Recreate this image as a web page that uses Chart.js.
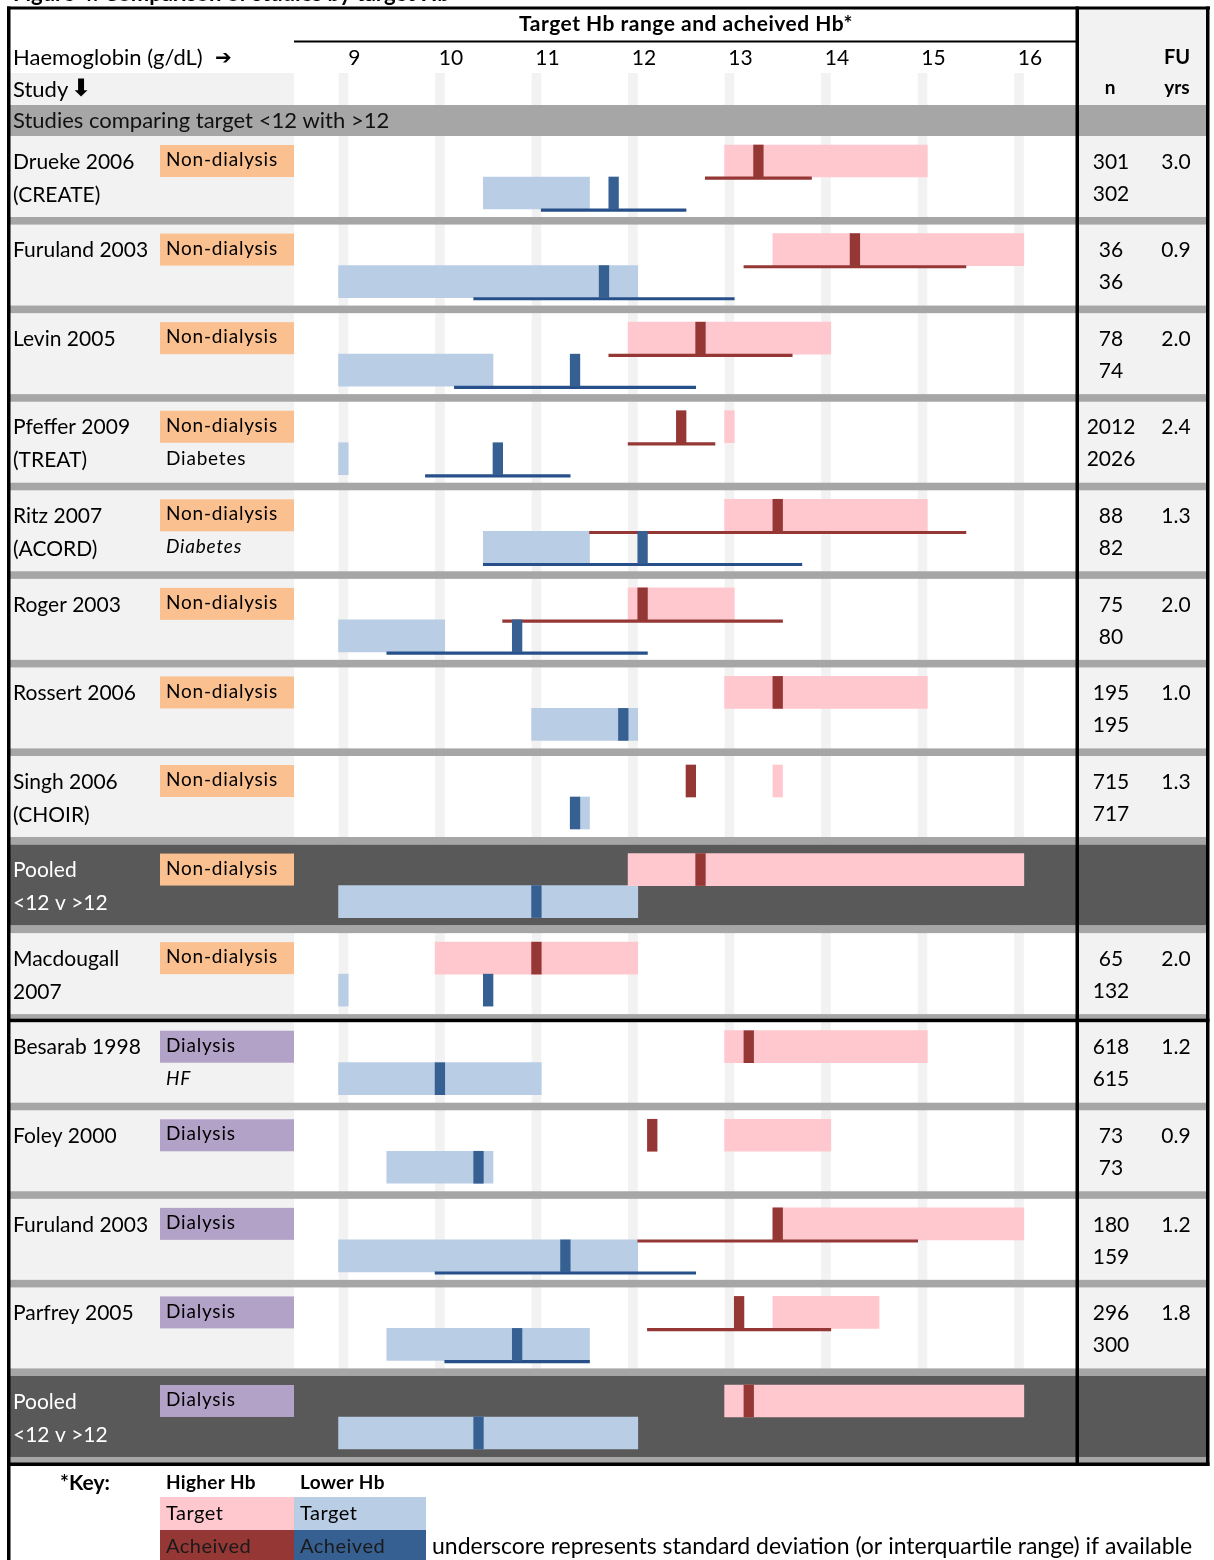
<!DOCTYPE html>
<html>
<head>
<meta charset="utf-8">
<title>Target Hb range and acheived Hb</title>
<script src="https://cdn.jsdelivr.net/npm/chart.js@4.4.1/dist/chart.umd.min.js"></script>
<style>
  html, body { margin: 0; padding: 0; background: #fff; }
  canvas { display: block; }
</style>
</head>
<body>
<canvas id="hbChart" width="1214" height="1560"></canvas>
<script>
// ---- Data -------------------------------------------------------------
const hbTicks = [9, 10, 11, 12, 13, 14, 15, 16];

const studyLine1 = ['Drueke 2006', 'Furuland 2003', 'Levin 2005', 'Pfeffer 2009', 'Ritz 2007',
  'Roger 2003', 'Rossert 2006', 'Singh 2006', 'Pooled', 'Macdougall',
  'Besarab 1998', 'Foley 2000', 'Furuland 2003', 'Parfrey 2005', 'Pooled'];
const studyLine2 = ['(CREATE)', '', '', '(TREAT)', '(ACORD)',
  '', '', '(CHOIR)', '<12 v >12', '2007',
  '', '', '', '', '<12 v >12'];
const setting = ['Non-dialysis', 'Non-dialysis', 'Non-dialysis', 'Non-dialysis', 'Non-dialysis',
  'Non-dialysis', 'Non-dialysis', 'Non-dialysis', 'Non-dialysis', 'Non-dialysis',
  'Dialysis', 'Dialysis', 'Dialysis', 'Dialysis', 'Dialysis'];
const subgroup = ['', '', '', 'Diabetes', 'Diabetes', '', '', '', '', '', 'HF', '', '', '', ''];
const subgroupItalic = [false, false, false, false, true, false, false, false, false, false, true, false, false, false, false];
const isPooled = [false, false, false, false, false, false, false, false, true, false, false, false, false, false, true];

const nHigher = ['301', '36', '78', '2012', '88', '75', '195', '715', '', '65', '618', '73', '180', '296', ''];
const nLower = ['302', '36', '74', '2026', '82', '80', '195', '717', '', '132', '615', '73', '159', '300', ''];
const followUpYrs = ['3.0', '0.9', '2.0', '2.4', '1.3', '2.0', '1.0', '1.3', '', '2.0', '1.2', '0.9', '1.2', '1.8', ''];

// Higher-Hb arm: target range, achieved Hb, SD / IQR range
const higherTarget = [[13, 15], [13.5, 16], [12, 14], [13, 13], [13, 15], [12, 13], [13, 15], [13.5, 13.5],
  [12, 16], [10, 12], [13, 15], [13, 14], [13.5, 16], [13.5, 14.5], [13, 16]];
const higherAchieved = [13.3, 14.3, 12.7, 12.5, 13.5, 12.1, 13.5, 12.6, 12.7, 11.0, 13.2, 12.2, 13.5, 13.1, 13.2];
const higherSpread = [[12.8, 13.8], [13.2, 15.4], [11.8, 13.6], [12.0, 12.8], [11.6, 15.4], [10.7, 13.5],
  null, null, null, null, null, null, [12.1, 14.9], [12.2, 14.0], null];

// Lower-Hb arm
const lowerTarget = [[10.5, 11.5], [9, 12], [9, 10.5], [9, 9], [10.5, 11.5], [9, 10], [11, 12], [11.5, 11.5],
  [9, 12], [9, 9], [9, 11], [9.5, 10.5], [9, 12], [9.5, 11.5], [9, 12]];
const lowerAchieved = [11.8, 11.7, 11.4, 10.6, 12.1, 10.8, 11.9, 11.4, 11.0, 10.5, 10.0, 10.4, 11.3, 10.8, 10.4];
const lowerSpread = [[11.1, 12.5], [10.4, 13.0], [10.2, 12.6], [9.9, 11.3], [10.5, 13.7], [9.5, 12.1],
  null, null, null, null, null, null, [10.0, 12.6], [10.1, 11.5], null];

// ---- Layout -----------------------------------------------------------
const W = 1214, H = 1560;
const PLOT_LEFT = 294, PLOT_RIGHT = 1076, PLOT_TOP = 73, PLOT_BOTTOM = 1463;
const X_MIN = 8.4882, X_MAX = 16.5906;
const ROW_TOP0 = 136, ROW_H = 88.57, BODY_H = 81;
const HALF_CELL = 0.05;               // every value fills a 0.1 g/dL cell

const rowTop = i => ROW_TOP0 + i * ROW_H;
const upperY = i => rowTop(i) + 25;
const lowerY = i => rowTop(i) + 57;
const upperLineY = i => rowTop(i) + 42.2;
const lowerLineY = i => rowTop(i) + 74.2;
const cell = (lo, hi) => [lo - HALF_CELL, hi + HALF_CELL];

const rangeData = (ranges, yFn) =>
  ranges.map((r, i) => (r ? { x: cell(r[0], r[1]), y: yFn(i) } : null)).filter(Boolean);
const pointData = (vals, yFn) => vals.map((v, i) => ({ x: cell(v, v), y: yFn(i) }));

const C = {
  pink: '#ffc7ce', red: '#953735', lightBlue: '#b9cde5', blue: '#376092', blueLine: '#27508a',
  peach: '#fac090', lavender: '#b3a2c7', sep: '#a6a6a6', pooled: '#595959', pale: '#f2f2f2'
};
const FONT = 'Lato, "Open Sans", sans-serif';
const ARROW_FONT = '"DejaVu Sans", sans-serif';

function text(ctx, s, x, y, opt = {}) {
  ctx.save();
  ctx.font = opt.font || ('20px ' + FONT);
  ctx.fillStyle = opt.color || '#000';
  ctx.textAlign = opt.align || 'left';
  ctx.textBaseline = opt.baseline || 'middle';
  if ('letterSpacing' in ctx) ctx.letterSpacing = opt.spacing || '0px';
  ctx.fillText(s, x, y);
  ctx.restore();
}
function rect(ctx, x0, y0, x1, y1, color) {
  ctx.fillStyle = color;
  ctx.fillRect(x0, y0, x1 - x0, y1 - y0);
}

// ---- Table drawn around the plot --------------------------------------
const tablePlugin = {
  id: 'hbTable',
  beforeDatasetsDraw(chart) {
    const ctx = chart.ctx;
    const xs = chart.scales.x;
    ctx.save();
    rect(ctx, 0, 0, W, H, '#fff');
    rect(ctx, 10, PLOT_TOP, PLOT_LEFT, PLOT_BOTTOM, C.pale);
    rect(ctx, PLOT_RIGHT, 9, 1207, PLOT_BOTTOM, C.pale);

    // gridline bands, one cell wide at each integer Hb
    const cw = xs.getPixelForValue(9 + HALF_CELL) - xs.getPixelForValue(9 - HALF_CELL);
    hbTicks.forEach(t => {
      const px = xs.getPixelForValue(t);
      rect(ctx, px - cw / 2, PLOT_TOP, px + cw / 2, PLOT_BOTTOM, C.pale);
    });

    // section heading band
    rect(ctx, 10, 105, 1207, ROW_TOP0, C.sep);

    for (let i = 0; i < studyLine1.length; i++) {
      const top = rowTop(i);
      if (isPooled[i]) rect(ctx, 10, top, 1207, top + BODY_H, C.pooled);
      rect(ctx, 10, top + BODY_H, 1207, rowTop(i + 1), C.sep);
      rect(ctx, 160, top + 9, PLOT_LEFT, top + 41, setting[i] === 'Dialysis' ? C.lavender : C.peach);
    }
    ctx.restore();
  },
  afterDatasetsDraw(chart) {
    const ctx = chart.ctx;
    const xs = chart.scales.x;
    ctx.save();

    // partially visible figure heading
    text(ctx, 'Figure 4: Comparison of studies by target Hb', 13, 1,
      { font: 'bold 22px ' + FONT, baseline: 'alphabetic' });

    // header
    text(ctx, 'Target Hb range and acheived Hb*', 686, 24,
      { font: 'bold 21px ' + FONT, align: 'center', spacing: '0.5px' });
    rect(ctx, PLOT_LEFT, 40.5, PLOT_RIGHT, 42.5, '#000');
    text(ctx, 'Haemoglobin (g/dL)', 13, 58, { font: '22px ' + FONT });
    text(ctx, '\u2794', 215, 59, { font: 'bold 20px ' + ARROW_FONT });
    text(ctx, 'Study', 13, 90, { font: '22px ' + FONT });
    text(ctx, '\u2B07', 71, 90, { font: 'bold 24px ' + ARROW_FONT });
    hbTicks.forEach(t => {
      text(ctx, String(t), xs.getPixelForValue(t) + 11, 58, { font: '21px ' + FONT, align: 'center' });
    });
    text(ctx, 'FU', 1177, 58, { font: 'bold 20px ' + FONT, align: 'center' });
    text(ctx, 'n', 1110, 88, { font: 'bold 19px ' + FONT, align: 'center' });
    text(ctx, 'yrs', 1177, 88, { font: 'bold 19px ' + FONT, align: 'center' });
    text(ctx, 'Studies comparing target <12 with >12', 13, 121, { font: '22px ' + FONT, color: '#111' });

    // rows
    for (let i = 0; i < studyLine1.length; i++) {
      const top = rowTop(i);
      const col = isPooled[i] ? '#fff' : '#000';
      text(ctx, studyLine1[i], 13, top + 26, { font: '21px ' + FONT, color: col });
      if (studyLine2[i]) text(ctx, studyLine2[i], 13, top + 59, { font: '21px ' + FONT, color: col });
      text(ctx, setting[i], 166, top + 24, { font: '19px ' + FONT, color: '#000', spacing: '0.8px' });
      if (subgroup[i]) {
        text(ctx, subgroup[i], 166, top + 57,
          { font: (subgroupItalic[i] ? 'italic ' : '') + '19px ' + FONT, color: '#000', spacing: '0.8px' });
      }
      if (nHigher[i]) text(ctx, nHigher[i], 1111, top + 26, { font: '21px ' + FONT, align: 'center' });
      if (nLower[i]) text(ctx, nLower[i], 1111, top + 58, { font: '21px ' + FONT, align: 'center' });
      if (followUpYrs[i]) text(ctx, followUpYrs[i], 1176, top + 26, { font: '21px ' + FONT, align: 'center' });
    }

    // borders
    rect(ctx, 7, 6.5, 1210, 9.5, '#000');                          // top
    rect(ctx, 7, 6.5, 10.5, H, '#000');                            // left
    rect(ctx, 1206, 6.5, 1209.5, 1466, '#000');                    // right
    rect(ctx, 1075.5, 6.5, 1079, 1466, '#000');                    // before n / FU columns
    rect(ctx, 7, rowTop(10) - 3, 1209.5, rowTop(10) + 0.5, '#000'); // non-dialysis / dialysis split
    rect(ctx, 7, 1462.5, 1209.5, 1466, '#000');                    // bottom

    // key
    text(ctx, '*Key:', 60, 1483, { font: 'bold 21px ' + FONT });
    text(ctx, 'Higher Hb', 166, 1483, { font: 'bold 19px ' + FONT, spacing: '0.3px' });
    text(ctx, 'Lower Hb', 300, 1483, { font: 'bold 19px ' + FONT, spacing: '0.3px' });
    rect(ctx, 160, 1497, 294, 1530, C.pink);
    rect(ctx, 294, 1497, 426, 1530, C.lightBlue);
    rect(ctx, 160, 1530, 294, H, C.red);
    rect(ctx, 294, 1530, 426, H, C.blue);
    text(ctx, 'Target', 166, 1514, { font: '20px ' + FONT, spacing: '0.5px' });
    text(ctx, 'Target', 300, 1514, { font: '20px ' + FONT, spacing: '0.5px' });
    text(ctx, 'Acheived', 166, 1547, { font: '20px ' + FONT, color: '#1a1a1a', spacing: '0.5px' });
    text(ctx, 'Acheived', 300, 1547, { font: '20px ' + FONT, color: '#1a1a1a', spacing: '0.5px' });
    text(ctx, 'underscore represents standard deviation (or interquartile range) if available', 432, 1547,
      { font: '23px ' + FONT });
    ctx.restore();
  }
};

// ---- Chart ------------------------------------------------------------
new Chart(document.getElementById('hbChart').getContext('2d'), {
  type: 'bar',
  data: {
    datasets: [
      { label: 'Higher Hb achieved', data: pointData(higherAchieved, upperY), backgroundColor: C.red, barThickness: 32, order: 1 },
      { label: 'Lower Hb achieved', data: pointData(lowerAchieved, lowerY), backgroundColor: C.blue, barThickness: 32, order: 1 },
      { label: 'Higher Hb SD', data: rangeData(higherSpread, upperLineY), backgroundColor: C.red, barThickness: 2.5, order: 2 },
      { label: 'Lower Hb SD', data: rangeData(lowerSpread, lowerLineY), backgroundColor: C.blueLine, barThickness: 2.5, order: 2 },
      { label: 'Higher Hb target', data: rangeData(higherTarget, upperY), backgroundColor: C.pink, barThickness: 32, order: 3 },
      { label: 'Lower Hb target', data: rangeData(lowerTarget, lowerY), backgroundColor: C.lightBlue, barThickness: 32, order: 3 }
    ]
  },
  options: {
    indexAxis: 'y',
    responsive: false,
    animation: false,
    events: [],
    layout: { padding: { left: PLOT_LEFT, right: W - PLOT_RIGHT, top: PLOT_TOP, bottom: H - PLOT_BOTTOM } },
    datasets: { bar: { grouped: false, borderWidth: 0, borderSkipped: false } },
    scales: {
      x: { type: 'linear', min: X_MIN, max: X_MAX, display: false, offset: false },
      y: { type: 'linear', min: PLOT_TOP, max: PLOT_BOTTOM, reverse: true, display: false, offset: false }
    },
    plugins: { legend: { display: false }, tooltip: { enabled: false } }
  },
  plugins: [tablePlugin]
});
</script>
</body>
</html>
